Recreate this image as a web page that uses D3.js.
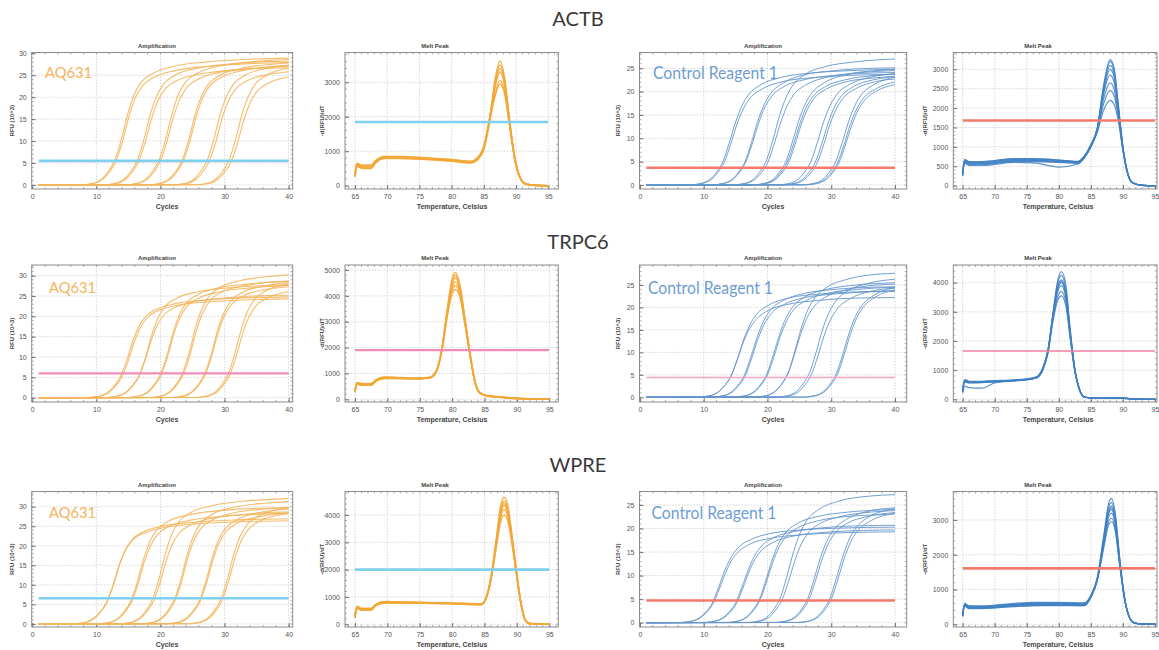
<!DOCTYPE html>
<html><head><meta charset="utf-8">
<script src="https://cdn.jsdelivr.net/npm/d3@7"></script>
<style>body{margin:0;background:#fff}svg{display:block}</style>
</head><body><svg id="chart" width="1159" height="650"></svg>
<script>
// ---------------- DATA ----------------
const genes = ["ACTB", "TRPC6", "WPRE"];
const reagents = ["AQ631", "Control Reagent 1"];
const ampTitle = "Amplification";
const meltTitle = "Melt Peak";
const ampXLabel = "Cycles";
const meltXLabel = "Temperature, Celsius";
const ampYLabel = "RFU (10^3)";
const meltYLabel = "-d(RFU)/dT";

const ampXTicks = [0, 10, 20, 30, 40];
const meltXTicks = [65, 70, 75, 80, 85, 90, 95];
const ampYTicksAQ = [0, 5, 10, 15, 20, 25, 30];
const ampYTicksCtrl = [0, 5, 10, 15, 20, 25];
const meltYTicksActbAQ = [0, 1000, 2000, 3000];
const meltYTicksActbCtrl = [0, 500, 1000, 1500, 2000, 2500, 3000];
const meltYTicksTrpc6AQ = [0, 1000, 2000, 3000, 4000, 5000];
const meltYTicksTrpc6Ctrl = [0, 1000, 2000, 3000, 4000];
const meltYTicksWpreAQ = [0, 1000, 2000, 3000, 4000];
const meltYTicksWpreCtrl = [0, 1000, 2000, 3000];

// thresholds
const thrActbAQAmp = 5.5, thrActbAQMelt = 1850, thrActbCtrlAmp = 3.7, thrActbCtrlMelt = 1680;
const thrTrpc6AQAmp = 6.0, thrTrpc6AQMelt = 1900, thrTrpc6CtrlAmp = 4.4, thrTrpc6CtrlMelt = 1660;
const thrWpreAQAmp = 6.6, thrWpreAQMelt = 2000, thrWpreCtrlAmp = 4.7, thrWpreCtrlMelt = 1610;

// amplification curves: [cycle, RFU x10^3]
const actbAQAmp = [
 [[1,0],[7.9,.06],[8.9,.23],[9.9,.58],[10.9,1.45],[11.9,3.19],[12.9,5.8],[13.9,10.4],[14.9,16.2],[15.9,20.6],[16.9,23.2],[18.9,25.5],[21.9,27],[26.9,28],[32.9,28.6],[40,28.9]],
 [[1,0],[8.1,.06],[9.1,.22],[10.1,.56],[11.1,1.4],[12.1,3.08],[13.1,5.6],[14.1,10.1],[15.1,15.7],[16.1,19.9],[17.1,22.4],[19.1,24.6],[22.1,26],[27.1,27],[33.1,27.6],[40,27.9]],
 [[1,0],[11.4,.06],[12.4,.23],[13.4,.57],[14.4,1.43],[15.4,3.14],[16.4,5.7],[17.4,10.3],[18.4,16],[19.4,20.2],[20.4,22.8],[22.4,25.1],[25.4,26.5],[30.4,27.5],[36.4,28.1],[40,28.2]],
 [[1,0],[11.6,.05],[12.6,.22],[13.6,.54],[14.6,1.35],[15.6,2.97],[16.6,5.4],[17.6,9.7],[18.6,15.1],[19.6,19.2],[20.6,21.6],[22.6,23.8],[25.6,25.1],[30.6,26.1],[36.6,26.6],[40,26.7]],
 [[1,0],[14.8,.06],[15.8,.23],[16.8,.58],[17.8,1.45],[18.8,3.19],[19.8,5.8],[20.8,10.4],[21.8,16.2],[22.8,20.6],[23.8,23.2],[25.8,25.5],[28.8,27],[33.8,28],[40,28.6]],
 [[1,0],[15,.06],[16,.22],[17,.55],[18,1.38],[19,3.03],[20,5.5],[21,9.9],[22,15.4],[23,19.5],[24,22],[26,24.2],[29,25.6],[34,26.5],[40,27.1]],
 [[1,0],[18.4,.06],[19.4,.23],[20.4,.57],[21.4,1.43],[22.4,3.14],[23.4,5.7],[24.4,10.3],[25.4,16],[26.4,20.2],[27.4,22.8],[29.4,25.1],[32.4,26.5],[37.4,27.5],[40,27.8]],
 [[1,0],[18.6,.06],[19.6,.22],[20.6,.56],[21.6,1.4],[22.6,3.08],[23.6,5.6],[24.6,10.1],[25.6,15.7],[26.6,19.9],[27.6,22.4],[29.6,24.6],[32.6,26],[37.6,27],[40,27.3]],
 [[1,0],[22.3,.06],[23.3,.23],[24.3,.57],[25.3,1.43],[26.3,3.14],[27.3,5.7],[28.3,10.3],[29.3,16],[30.3,20.2],[31.3,22.8],[33.3,25.1],[36.3,26.5],[40,27.2]],
 [[1,0],[22.6,.05],[23.6,.22],[24.6,.54],[25.6,1.35],[26.6,2.97],[27.6,5.4],[28.6,9.7],[29.6,15.1],[30.6,19.2],[31.6,21.6],[33.6,23.8],[36.6,25.1],[40,25.8]],
 [[1,0],[25.7,.06],[26.7,.23],[27.7,.57],[28.7,1.43],[29.7,3.14],[30.7,5.7],[31.7,10.3],[32.7,16],[33.7,20.2],[34.7,22.8],[36.7,25.1],[40,26.6]],
 [[1,0],[26,.05],[27,.21],[28,.53],[29,1.33],[30,2.92],[31,5.3],[32,9.5],[33,14.8],[34,18.8],[35,21.2],[37,23.3],[40,24.6]]
];
const actbCtrlAmp = [
 [[1,0],[8,.05],[9,.2],[10,.5],[11,1.25],[12,2.75],[13,5],[14,9],[15,13.5],[16,17],[17,19.3],[19,21.5],[22,23],[27,24],[33,24.5],[40,24.8]],
 [[1,0],[8.2,.05],[9.2,.19],[10.2,.48],[11.2,1.2],[12.2,2.64],[13.2,4.8],[14.2,8.6],[15.2,13],[16.2,16.3],[17.2,18.5],[19.2,20.6],[22.2,22.1],[27.2,23],[33.2,23.5],[40,23.7]],
 [[1,0],[11.5,.05],[12.5,.2],[13.5,.51],[14.5,1.28],[15.5,2.81],[16.5,5.1],[17.5,9.2],[18.5,13.8],[19.5,17.3],[20.5,19.6],[22.5,21.9],[25.5,23.5],[30.5,24.5],[36.5,25],[40,25.1]],
 [[1,0],[11.6,.05],[12.6,.2],[13.6,.49],[14.6,1.23],[15.6,2.7],[16.6,4.9],[17.6,8.8],[18.6,13.2],[19.6,16.7],[20.6,18.9],[22.6,21.1],[25.6,22.5],[30.6,23.5],[36.6,24],[40,24.1]],
 [[1,0],[14.9,.06],[15.9,.22],[16.9,.55],[17.9,1.38],[18.9,3.03],[19.9,5.5],[20.9,9.9],[21.9,14.9],[22.9,18.7],[23.9,21.2],[25.9,23.7],[28.9,25.3],[33.9,26.4],[40,27]],
 [[1,0],[15.1,.05],[16.1,.2],[17.1,.5],[18.1,1.25],[19.1,2.75],[20.1,5],[21.1,9],[22.1,13.5],[23.1,17],[24.1,19.3],[26.1,21.5],[29.1,23],[34.1,24],[40,24.5]],
 [[1,0],[17.9,.05],[18.9,.2],[19.9,.51],[20.9,1.28],[21.9,2.81],[22.9,5.1],[23.9,9.2],[24.9,13.8],[25.9,17.3],[26.9,19.6],[28.9,21.9],[31.9,23.5],[36.9,24.5],[40,24.7]],
 [[1,0],[18.1,.05],[19.1,.2],[20.1,.49],[21.1,1.23],[22.1,2.7],[23.1,4.9],[24.1,8.8],[25.1,13.2],[26.1,16.7],[27.1,18.9],[29.1,21.1],[32.1,22.5],[37.1,23.5],[40,23.8]],
 [[1,0],[18.3,.05],[19.3,.19],[20.3,.48],[21.3,1.2],[22.3,2.64],[23.3,4.8],[24.3,8.6],[25.3,13],[26.3,16.3],[27.3,18.5],[29.3,20.6],[32.3,22.1],[37.3,23],[40,23.3]],
 [[1,0],[21.8,.05],[22.8,.2],[23.8,.5],[24.8,1.25],[25.8,2.75],[26.8,5],[27.8,9],[28.8,13.5],[29.8,17],[30.8,19.3],[32.8,21.5],[35.8,23],[40,23.8]],
 [[1,0],[22.5,.05],[23.5,.2],[24.5,.49],[25.5,1.23],[26.5,2.7],[27.5,4.9],[28.5,8.8],[29.5,13.2],[30.5,16.7],[31.5,18.9],[33.5,21.1],[36.5,22.5],[40,23.2]],
 [[1,0],[22.8,.05],[23.8,.19],[24.8,.48],[25.8,1.2],[26.8,2.64],[27.8,4.8],[28.8,8.6],[29.8,13],[30.8,16.3],[31.8,18.5],[33.8,20.6],[36.8,22.1],[40,22.7]],
 [[1,0],[25.7,.05],[26.7,.2],[27.7,.5],[28.7,1.25],[29.7,2.75],[30.7,5],[31.7,9],[32.7,13.5],[33.7,17],[34.7,19.3],[36.7,21.5],[40,23.1]],
 [[1,0],[26,.05],[27,.19],[28,.48],[29,1.2],[30,2.64],[31,4.8],[32,8.6],[33,13],[34,16.3],[35,18.5],[37,20.6],[40,22.1]],
 [[1,0],[26.2,.05],[27.2,.19],[28.2,.47],[29.2,1.18],[30.2,2.59],[31.2,4.7],[32.2,8.5],[33.2,12.7],[34.2,16],[35.2,18.1],[37.2,20.2],[40,21.5]]
];
const trpc6AQAmp = [
 [[1,0],[8.7,.05],[9.7,.2],[10.7,.5],[11.7,1.25],[12.7,2.75],[13.7,5],[14.7,9],[15.7,14],[16.7,17.75],[17.7,20],[19.7,22],[22.7,23.25],[27.7,24.1],[33.7,24.6],[40,24.8]],
 [[1,0],[8.9,.05],[9.9,.2],[10.9,.49],[11.9,1.23],[12.9,2.7],[13.9,4.9],[14.9,8.8],[15.9,13.7],[16.9,17.4],[17.9,19.6],[19.9,21.6],[22.9,22.8],[27.9,23.6],[33.9,24.1],[40,24.3]],
 [[1,0],[11.7,.06],[12.7,.22],[13.7,.56],[14.7,1.4],[15.7,3.08],[16.7,5.6],[17.7,10.1],[18.7,15.7],[19.7,19.9],[20.7,22.4],[22.7,24.6],[25.7,26],[30.7,27],[36.7,27.6],[40,27.7]],
 [[1,0],[11.6,.05],[12.6,.2],[13.6,.51],[14.6,1.28],[15.6,2.8],[16.6,5.1],[17.6,9.2],[18.6,14.3],[19.6,18.1],[20.6,20.4],[22.6,22.4],[25.6,23.7],[30.6,24.6],[36.6,25.1],[40,25.2]],
 [[1,0],[15,.06],[16,.23],[17,.58],[18,1.45],[19,3.19],[20,5.8],[21,10.4],[22,16.2],[23,20.6],[24,23.2],[26,25.5],[29,27],[34,28],[40,28.6]],
 [[1,0],[15.1,.06],[16.1,.22],[17.1,.56],[18.1,1.4],[19.1,3.08],[20.1,5.6],[21.1,10.1],[22.1,15.7],[23.1,19.9],[24.1,22.4],[26.1,24.6],[29.1,26],[34.1,27],[40,27.6]],
 [[1,0],[18.5,.06],[19.5,.25],[20.5,.62],[21.5,1.55],[22.5,3.41],[23.5,6.2],[24.5,11.2],[25.5,17.4],[26.5,22],[27.5,24.8],[29.5,27.3],[32.5,28.8],[37.5,29.9],[40,30.2]],
 [[1,0],[18.6,.06],[19.6,.24],[20.6,.59],[21.6,1.48],[22.6,3.25],[23.6,5.9],[24.6,10.6],[25.6,16.5],[26.6,20.9],[27.6,23.6],[29.6,26],[32.6,27.4],[37.6,28.5],[40,28.7]],
 [[1,0],[21.9,.06],[22.9,.24],[23.9,.59],[24.9,1.48],[25.9,3.25],[26.9,5.9],[27.9,10.6],[28.9,16.5],[29.9,20.9],[30.9,23.6],[32.9,26],[35.9,27.4],[40,28.3]],
 [[1,0],[22,.06],[23,.23],[24,.57],[25,1.43],[26,3.14],[27,5.7],[28,10.3],[29,16],[30,20.2],[31,22.8],[33,25.1],[36,26.5],[40,27.3]],
 [[1,0],[25.6,.06],[26.6,.24],[27.6,.6],[28.6,1.5],[29.6,3.3],[30.6,6],[31.6,10.8],[32.6,16.8],[33.6,21.3],[34.6,24],[36.6,26.4],[40,28]],
 [[1,0],[25.8,.06],[26.8,.22],[27.8,.56],[28.8,1.4],[29.8,3.08],[30.8,5.6],[31.8,10.1],[32.8,15.7],[33.8,19.9],[34.8,22.4],[36.8,24.6],[40,26.1]]
];
const trpc6CtrlAmp = [
 [[1,0],[9.2,.05],[10.2,.18],[11.2,.45],[12.2,1.13],[13.2,2.48],[14.2,4.5],[15.2,8.1],[16.2,12.2],[17.2,15.3],[18.2,17.3],[20.2,19.4],[23.2,20.7],[28.2,21.6],[34.2,22.1],[40,22.2]],
 [[1,0],[9.3,.05],[10.3,.19],[11.3,.48],[12.3,1.2],[13.3,2.64],[14.3,4.8],[15.3,8.6],[16.3,13],[17.3,16.3],[18.3,18.5],[20.3,20.6],[23.3,22.1],[28.3,23],[34.3,23.5],[40,23.7]],
 [[1,0],[11.4,.05],[12.4,.2],[13.4,.5],[14.4,1.25],[15.4,2.75],[16.4,5],[17.4,9],[18.4,13.5],[19.4,17],[20.4,19.3],[22.4,21.5],[25.4,23],[30.4,24],[36.4,24.5],[40,24.6]],
 [[1,0],[11.5,.05],[12.5,.19],[13.5,.48],[14.5,1.2],[15.5,2.64],[16.5,4.8],[17.5,8.6],[18.5,13],[19.5,16.3],[20.5,18.5],[22.5,20.6],[25.5,22.1],[30.5,23],[36.5,23.5],[40,23.6]],
 [[1,0],[14.9,.05],[15.9,.21],[16.9,.52],[17.9,1.3],[18.9,2.86],[19.9,5.2],[20.9,9.4],[21.9,14],[22.9,17.7],[23.9,20],[25.9,22.4],[28.9,23.9],[33.9,25],[40,25.5]],
 [[1,0],[15,.05],[16,.2],[17,.5],[18,1.25],[19,2.75],[20,5],[21,9],[22,13.5],[23,17],[24,19.3],[26,21.5],[29,23],[34,24],[40,24.5]],
 [[1,0],[18.3,.06],[19.3,.23],[20.3,.57],[21.3,1.43],[22.3,3.14],[23.3,5.7],[24.3,10.3],[25.3,15.4],[26.3,19.4],[27.3,21.9],[29.3,24.5],[32.3,26.2],[37.3,27.4],[40,27.6]],
 [[1,0],[18.2,.05],[19.2,.21],[20.2,.52],[21.2,1.3],[22.2,2.86],[23.2,5.2],[24.2,9.4],[25.2,14],[26.2,17.7],[27.2,20],[29.2,22.4],[32.2,23.9],[37.2,25],[40,25.2]],
 [[1,0],[21.6,.06],[22.6,.22],[23.6,.55],[24.6,1.38],[25.6,3.03],[26.6,5.5],[27.6,9.9],[28.6,14.9],[29.6,18.7],[30.6,21.2],[32.6,23.7],[35.6,25.3],[40,26.3]],
 [[1,0],[21.9,.05],[22.9,.2],[23.9,.51],[24.9,1.28],[25.9,2.81],[26.9,5.1],[27.9,9.2],[28.9,13.8],[29.9,17.3],[30.9,19.6],[32.9,21.9],[35.9,23.5],[40,24.3]],
 [[1,0],[25.8,.05],[26.8,.21],[27.8,.53],[28.8,1.33],[29.8,2.92],[30.8,5.3],[31.8,9.5],[32.8,14.3],[33.8,18],[34.8,20.4],[36.8,22.8],[40,24.4]],
 [[1,0],[26,.05],[27,.21],[28,.52],[29,1.3],[30,2.86],[31,5.2],[32,9.4],[33,14],[34,17.7],[35,20],[37,22.4],[40,23.9]]
];
const wpreAQAmp = [
 [[1,0],[6.5,.05],[7.5,.21],[8.5,.53],[9.5,1.33],[10.5,2.92],[11.5,5.3],[12.5,9.5],[13.5,14.8],[14.5,18.8],[15.5,21.2],[17.5,23.3],[20.5,24.6],[25.5,25.6],[31.5,26.1],[40,26.4]],
 [[1,0],[6.6,.05],[7.6,.22],[8.6,.54],[9.6,1.35],[10.6,2.97],[11.6,5.4],[12.6,9.7],[13.6,15.1],[14.6,19.2],[15.6,21.6],[17.6,23.8],[20.6,25.1],[25.6,26.1],[31.6,26.6],[40,26.9]],
 [[1,0],[10.4,.06],[11.4,.24],[12.4,.6],[13.4,1.5],[14.4,3.3],[15.4,6],[16.4,10.8],[17.4,16.8],[18.4,21.3],[19.4,24],[21.4,26.4],[24.4,27.9],[29.4,29],[35.4,29.6],[40,29.7]],
 [[1,0],[10.5,.06],[11.5,.23],[12.5,.57],[13.5,1.43],[14.5,3.14],[15.5,5.7],[16.5,10.3],[17.5,16],[18.5,20.2],[19.5,22.8],[21.5,25.1],[24.5,26.5],[29.5,27.5],[35.5,28.1],[40,28.3]],
 [[1,0],[13.8,.07],[14.8,.26],[15.8,.65],[16.8,1.63],[17.8,3.58],[18.8,6.5],[19.8,11.7],[20.8,18.2],[21.8,23.1],[22.8,26],[24.8,28.6],[27.8,30.2],[32.8,31.4],[38.8,32],[40,32.1]],
 [[1,0],[13.9,.06],[14.9,.23],[15.9,.58],[16.9,1.45],[17.9,3.19],[18.9,5.8],[19.9,10.4],[20.9,16.2],[21.9,20.6],[22.9,23.2],[24.9,25.5],[27.9,27],[32.9,28],[38.9,28.6],[40,28.6]],
 [[1,0],[17.2,.06],[18.2,.26],[19.2,.64],[20.2,1.6],[21.2,3.52],[22.2,6.4],[23.2,11.5],[24.2,17.9],[25.2,22.7],[26.2,25.6],[28.2,28.2],[31.2,29.8],[36.2,30.9],[40,31.3]],
 [[1,0],[17.3,.06],[18.3,.24],[19.3,.61],[20.3,1.53],[21.3,3.36],[22.3,6.1],[23.3,11],[24.3,17.1],[25.3,21.7],[26.3,24.4],[28.3,26.8],[31.3,28.4],[36.3,29.4],[40,29.8]],
 [[1,0],[21.1,.06],[22.1,.24],[23.1,.61],[24.1,1.53],[25.1,3.36],[26.1,6.1],[27.1,11],[28.1,17.1],[29.1,21.7],[30.1,24.4],[32.1,26.8],[35.1,28.4],[40,29.4]],
 [[1,0],[21.2,.06],[22.2,.24],[23.2,.59],[24.2,1.48],[25.2,3.25],[26.2,5.9],[27.2,10.6],[28.2,16.5],[29.2,20.9],[30.2,23.6],[32.2,26],[35.2,27.4],[40,28.4]],
 [[1,0],[24.4,.06],[25.4,.25],[26.4,.63],[27.4,1.58],[28.4,3.47],[29.4,6.3],[30.4,11.3],[31.4,17.6],[32.4,22.4],[33.4,25.2],[35.4,27.7],[38.4,29.3],[40,29.6]],
 [[1,0],[24.6,.06],[25.6,.24],[26.6,.6],[27.6,1.5],[28.6,3.3],[29.6,6],[30.6,10.8],[31.6,16.8],[32.6,21.3],[33.6,24],[35.6,26.4],[38.6,27.9],[40,28.2]]
];
const wpreCtrlAmp = [
 [[1,0],[6.3,.04],[7.3,.16],[8.3,.41],[9.3,1.03],[10.3,2.26],[11.3,4.1],[12.3,7.4],[13.3,11.1],[14.3,13.9],[15.3,15.8],[17.3,17.6],[20.3,18.9],[25.3,19.7],[31.3,20.1],[40,20.3]],
 [[1,0],[6.4,.04],[7.4,.16],[8.4,.39],[9.4,.98],[10.4,2.15],[11.4,3.9],[12.4,7],[13.4,10.5],[14.4,13.3],[15.4,15],[17.4,16.8],[20.4,17.9],[25.4,18.7],[31.4,19.1],[40,19.3]],
 [[1,0],[10,.04],[11,.17],[12,.42],[13,1.05],[14,2.31],[15,4.2],[16,7.6],[17,11.3],[18,14.3],[19,16.2],[21,18.1],[24,19.3],[29,20.2],[35,20.6],[40,20.7]],
 [[1,0],[10.1,.04],[11.1,.16],[12.1,.4],[13.1,1],[14.1,2.2],[15.1,4],[16.1,7.2],[17.1,10.8],[18.1,13.6],[19.1,15.4],[21.1,17.2],[24.1,18.4],[29.1,19.2],[35.1,19.6],[40,19.7]],
 [[1,0],[13.7,.05],[14.7,.2],[15.7,.49],[16.7,1.23],[17.7,2.7],[18.7,4.9],[19.7,8.8],[20.7,13.2],[21.7,16.7],[22.7,18.9],[24.7,21.1],[27.7,22.5],[32.7,23.5],[38.7,24],[40,24.1]],
 [[1,0],[13.8,.05],[14.8,.19],[15.8,.47],[16.8,1.18],[17.8,2.59],[18.8,4.7],[19.8,8.5],[20.8,12.7],[21.8,16],[22.8,18.1],[24.8,20.2],[27.8,21.6],[32.8,22.6],[38.8,23],[40,23.1]],
 [[1,0],[17.1,.06],[18.1,.22],[19.1,.56],[20.1,1.4],[21.1,3.08],[22.1,5.6],[23.1,10.1],[24.1,15.1],[25.1,19],[26.1,21.6],[28.1,24.1],[31.1,25.8],[36.1,26.9],[40,27.2]],
 [[1,0],[17.3,.05],[18.3,.2],[19.3,.49],[20.3,1.23],[21.3,2.7],[22.3,4.9],[23.3,8.8],[24.3,13.2],[25.3,16.7],[26.3,18.9],[28.3,21.1],[31.3,22.5],[36.3,23.5],[40,23.8]],
 [[1,0],[21.3,.05],[22.3,.2],[23.3,.51],[24.3,1.28],[25.3,2.81],[26.3,5.1],[27.3,9.2],[28.3,13.8],[29.3,17.3],[30.3,19.6],[32.3,21.9],[35.3,23.5],[40,24.4]],
 [[1,0],[21.5,.05],[22.5,.2],[23.5,.49],[24.5,1.23],[25.5,2.7],[26.5,4.9],[27.5,8.8],[28.5,13.2],[29.5,16.7],[30.5,18.9],[32.5,21.1],[35.5,22.5],[40,23.4]],
 [[1,0],[24.8,.05],[25.8,.21],[26.8,.52],[27.8,1.3],[28.8,2.86],[29.8,5.2],[30.8,9.4],[31.8,14],[32.8,17.7],[33.8,20],[35.8,22.4],[38.8,23.9],[40,24.2]],
 [[1,0],[25,.05],[26,.2],[27,.5],[28,1.25],[29,2.75],[30,5],[31,9],[32,13.5],[33,17],[34,19.3],[36,21.5],[39,23],[40,23.2]]
];

// melt peak curves: temperatures + -d(RFU)/dT values
const actbAQMeltTemps = [65,65.3,66,67.5,68.2,69.5,72,76,80,83,84,85,86,86.8,87.5,88.2,89,89.8,90.6,91.5,93,95];
const actbAQMelt = [
 [300,640,580,580,720,840,840,800,750,700,800,1150,2100,3150,3620,3150,1900,820,260,60,10,0],
 [380,600,540,540,690,810,820,790,740,690,780,1100,2050,3050,3500,3080,1860,800,250,50,10,0],
 [250,580,520,510,670,800,800,770,720,670,760,1080,2000,2980,3400,3000,1820,790,240,50,10,0],
 [330,650,600,600,730,850,850,810,760,710,810,1130,2050,2900,3300,2920,1800,780,240,50,10,0],
 [280,560,500,500,660,790,790,760,710,660,750,1050,1950,2700,3050,2750,1750,760,230,40,5,0],
 [350,620,570,570,710,830,830,790,740,690,790,1120,2020,2640,2950,2680,1720,750,230,40,5,0]
];
const actbCtrlMeltTemps = [65,65.3,66,68,70,73,76,80,83,84,85,86,87,88,88.6,89.3,90,90.7,91.5,93,95];
const actbCtrlMelt = [
 [300,650,590,590,610,660,660,630,600,760,1050,1500,2600,3250,3050,2050,1000,360,80,10,0],
 [250,620,560,560,590,640,650,620,590,740,1030,1480,2560,3200,3000,2020,990,350,80,10,0],
 [380,680,620,610,630,680,680,650,620,770,1060,1470,2500,3100,2900,1980,980,350,70,10,0],
 [280,600,540,540,570,620,620,600,580,730,1020,1450,2450,3000,2820,1940,970,340,70,10,0],
 [330,640,600,600,640,700,700,660,630,770,1040,1440,2380,2850,2680,1880,950,340,70,10,0],
 [260,580,520,520,550,600,590,480,560,720,1000,1420,2250,2650,2500,1800,930,330,70,10,0],
 [350,660,610,620,650,690,690,660,620,760,1030,1400,2120,2450,2330,1730,910,330,70,10,0],
 [300,610,560,570,600,640,640,610,590,740,1000,1380,1950,2200,2100,1650,900,320,70,10,0]
];
const trpc6AQMeltTemps = [65,65.3,66,67.5,68.2,69.5,72,75,76.5,77.5,78.4,79.2,80,80.5,81.2,82,82.7,83.5,84.3,85.5,87,90,95];
const trpc6AQMelt = [
 [320,640,600,600,740,850,830,810,840,1080,1950,3400,4650,4900,4420,3080,1880,720,260,130,90,30,0],
 [280,600,560,560,710,820,810,800,830,1050,1920,3350,4550,4800,4350,3040,1860,710,250,120,90,30,0],
 [350,650,610,610,750,860,840,820,850,1070,1900,3300,4450,4700,4280,3000,1840,700,250,130,100,40,0],
 [260,580,540,540,690,800,800,790,820,1040,1880,3250,4330,4550,4150,2950,1820,690,240,120,90,30,0],
 [330,620,580,580,720,830,820,800,830,1060,1870,3200,4200,4400,4050,2900,1800,690,240,150,110,40,0],
 [300,600,560,560,700,810,800,790,820,1030,1850,3150,4080,4250,3950,2850,1780,680,230,140,100,30,0]
];
const trpc6CtrlMeltTemps = [65,65.3,66,68,70,73,75,76.5,77.5,78.3,79.1,79.8,80.4,81.1,81.8,82.5,83.2,84,86,89,92,95];
const trpc6CtrlMelt = [
 [300,650,600,600,620,650,690,760,1080,1700,3000,4050,4380,3900,2350,1050,360,80,30,50,10,0],
 [250,620,580,580,600,640,670,740,1060,1680,2950,3950,4250,3780,2280,1020,350,80,30,50,10,0],
 [350,680,620,620,640,670,700,770,1070,1670,2920,3850,4100,3650,2230,1010,350,80,30,50,10,0],
 [280,600,560,570,600,640,670,740,1050,1660,2900,3800,4050,3600,2200,1000,350,80,30,50,10,0],
 [320,640,610,610,630,660,690,750,1040,1640,2880,3760,4000,3560,2180,990,340,70,30,40,10,0],
 [200,450,400,380,560,630,670,740,1030,1620,2840,3680,3900,3480,2150,980,340,70,30,40,10,0],
 [330,660,600,600,620,650,680,740,1020,1600,2780,3500,3700,3320,2080,960,330,70,30,40,10,0],
 [270,610,570,580,610,640,670,730,1000,1580,2700,3380,3550,3200,2030,950,330,70,30,40,10,0]
];
const wpreAQMeltTemps = [65,65.3,66,67.5,68.2,69.5,72,76,80,84.5,85.3,86,86.8,87.5,88,88.5,89.2,89.9,90.6,91.3,92,95];
const wpreAQMelt = [
 [280,640,570,570,720,820,820,790,770,740,1020,1750,3100,4350,4650,4450,3350,2000,820,160,30,0],
 [230,600,530,530,690,790,790,770,750,720,990,1700,3020,4200,4500,4300,3250,1960,800,150,30,0],
 [320,660,590,590,730,830,820,800,780,750,1010,1720,3000,4130,4420,4220,3200,1950,800,150,30,0],
 [260,580,510,510,680,780,780,770,750,720,980,1680,2950,4060,4350,4150,3150,1930,790,150,30,0],
 [300,620,560,560,710,810,800,790,770,740,1000,1660,2880,3930,4200,4020,3080,1900,780,140,20,0],
 [240,590,540,540,690,790,790,780,760,730,990,1640,2800,3750,4000,3850,3000,1880,770,140,20,0]
];
const wpreCtrlMeltTemps = [65,65.3,66,68,70,73,76,80,84,85,86,87,87.8,88.2,88.8,89.5,90.2,90.9,91.7,93,95];
const wpreCtrlMelt = [
 [280,580,510,510,530,570,600,600,590,830,1350,2550,3500,3620,3200,1900,830,260,50,10,0],
 [230,540,470,470,490,530,560,560,550,800,1320,2480,3400,3500,3100,1860,820,250,50,10,0],
 [300,600,530,520,540,580,610,610,600,820,1300,2420,3300,3400,3020,1820,810,250,50,10,0],
 [220,520,450,450,470,510,540,540,540,780,1290,2400,3250,3350,2980,1800,800,250,50,10,0],
 [260,560,490,490,520,560,590,590,580,810,1300,2380,3210,3300,2940,1780,800,250,50,10,0],
 [240,530,460,460,480,520,540,550,540,780,1280,2320,3110,3200,2870,1750,790,250,50,10,0],
 [290,580,520,520,550,600,630,630,620,830,1290,2250,2970,3050,2750,1700,780,240,40,10,0],
 [250,540,480,480,500,540,570,570,560,790,1250,2200,2880,2950,2680,1680,770,240,40,10,0]
];

// ---------------- STYLE / LAYOUT ----------------
const C = {
  orangeAmp: "#f4b55c", orangeMelt: "#f2a735",
  blueAmp: "#6596cc", blueMelt: "#3f80c3",
  thrBlue: "#7fd0ee", thrRed: "#f27a6b", thrPink: "#f08db6", thrPinkLight: "#f4a4be",
  aqText: "#f5b35c", ctrlText: "#6e9dd2", axisText: "#555", frame: "#8c8c8c", grid: "#cdcdcd"
};
const COLS = [
  { l: 31.7, r: 292.7, titleX: 157, xLabX: 167, yLabX: 12 },
  { l: 345, r: 558.3, titleX: 435, xLabX: 452, yLabX: 322 },
  { l: 639.5, r: 906.7, titleX: 763, xLabX: 773, yLabX: 618 },
  { l: 953.3, r: 1157, titleX: 1038, xLabX: 1058, yLabX: 925 }
];
const ROWS = [
  { t: 52.5, b: 189, titleY: 47.5, geneY: 25.5, labelY: 77.5 },
  { t: 265, b: 402, titleY: 260, geneY: 249, labelY: 292.5 },
  { t: 491.5, b: 627, titleY: 486.5, geneY: 472, labelY: 517.5 }
];

const panels = [
  // row 0 ACTB
  { row: 0, col: 0, kind: "amp", series: actbAQAmp, color: C.orangeAmp, width: 1.1,
    xA: [0, 40, 32.3, 288.7], yA: [0, 30, 185, 53.3], yTicks: ampYTicksAQ, yMinor: 1,
    thr: thrActbAQAmp, thrColor: C.thrBlue, thrW: 2.6, label: reagents[0] },
  { row: 0, col: 1, kind: "melt", temps: actbAQMeltTemps, vals: actbAQMelt, color: C.orangeMelt, width: 1.5,
    xA: [65, 95, 355, 548.3], yA: [0, 3000, 185.7, 82.3], yTicks: meltYTicksActbAQ, yMinor: 200,
    thr: thrActbAQMelt, thrColor: C.thrBlue, thrW: 2.6 },
  { row: 0, col: 2, kind: "amp", series: actbCtrlAmp, color: C.blueAmp, width: 1,
    xA: [0, 40, 640, 895], yA: [0, 25, 185, 68.3], yTicks: ampYTicksCtrl, yMinor: 1,
    thr: thrActbCtrlAmp, thrColor: C.thrRed, thrW: 2.4, label: reagents[1] },
  { row: 0, col: 3, kind: "melt", temps: actbCtrlMeltTemps, vals: actbCtrlMelt, color: C.blueMelt, width: 1.2,
    xA: [65, 95, 962.7, 1155], yA: [0, 3000, 185.7, 69.3], yTicks: meltYTicksActbCtrl, yMinor: 100,
    thr: thrActbCtrlMelt, thrColor: C.thrRed, thrW: 2.6 },
  // row 1 TRPC6
  { row: 1, col: 0, kind: "amp", series: trpc6AQAmp, color: C.orangeAmp, width: 1.1,
    xA: [0, 40, 32.3, 288.7], yA: [0, 30, 397.7, 275.7], yTicks: ampYTicksAQ, yMinor: 1,
    thr: thrTrpc6AQAmp, thrColor: C.thrPink, thrW: 2.2, label: reagents[0] },
  { row: 1, col: 1, kind: "melt", temps: trpc6AQMeltTemps, vals: trpc6AQMelt, color: C.orangeMelt, width: 1.5,
    xA: [65, 95, 355, 549.3], yA: [0, 5000, 399.3, 270], yTicks: meltYTicksTrpc6AQ, yMinor: 200,
    thr: thrTrpc6AQMelt, thrColor: C.thrPink, thrW: 2.2 },
  { row: 1, col: 2, kind: "amp", series: trpc6CtrlAmp, color: C.blueAmp, width: 1,
    xA: [0, 40, 640, 895], yA: [0, 25, 397.3, 285], yTicks: ampYTicksCtrl, yMinor: 1,
    thr: thrTrpc6CtrlAmp, thrColor: C.thrPinkLight, thrW: 1.6, label: reagents[1] },
  { row: 1, col: 3, kind: "melt", temps: trpc6CtrlMeltTemps, vals: trpc6CtrlMelt, color: C.blueMelt, width: 1.2,
    xA: [65, 95, 962.7, 1155], yA: [0, 4000, 399.3, 282.7], yTicks: meltYTicksTrpc6Ctrl, yMinor: 200,
    thr: thrTrpc6CtrlMelt, thrColor: "#ee7f9f", thrW: 1.5 },
  // row 2 WPRE
  { row: 2, col: 0, kind: "amp", series: wpreAQAmp, color: C.orangeAmp, width: 1.1,
    xA: [0, 40, 32.3, 288.7], yA: [0, 30, 624, 506.7], yTicks: ampYTicksAQ, yMinor: 1,
    thr: thrWpreAQAmp, thrColor: C.thrBlue, thrW: 2.6, label: reagents[0] },
  { row: 2, col: 1, kind: "melt", temps: wpreAQMeltTemps, vals: wpreAQMelt, color: C.orangeMelt, width: 1.5,
    xA: [65, 95, 355, 549.3], yA: [0, 4000, 624.3, 515], yTicks: meltYTicksWpreAQ, yMinor: 200,
    thr: thrWpreAQMelt, thrColor: C.thrBlue, thrW: 2.6 },
  { row: 2, col: 2, kind: "amp", series: wpreCtrlAmp, color: C.blueAmp, width: 1,
    xA: [0, 40, 640, 895], yA: [0, 25, 622.7, 505], yTicks: ampYTicksCtrl, yMinor: 1,
    thr: thrWpreCtrlAmp, thrColor: C.thrRed, thrW: 2.6, label: reagents[1] },
  { row: 2, col: 3, kind: "melt", temps: wpreCtrlMeltTemps, vals: wpreCtrlMelt, color: C.blueMelt, width: 1.2,
    xA: [65, 95, 962.7, 1155], yA: [0, 3000, 624.3, 520], yTicks: meltYTicksWpreCtrl, yMinor: 200,
    thr: thrWpreCtrlMelt, thrColor: C.thrRed, thrW: 2.6 }
];

// ---------------- DRAW ----------------
const svg = d3.select("#chart");
svg.append("rect").attr("width", 1159).attr("height", 650).attr("fill", "#fff");
const defs = svg.append("defs");
const SANS = "'Liberation Sans', Arial, sans-serif";
const BIG = "Lato, 'Open Sans', sans-serif";

// gene row titles
genes.forEach((gname, i) => {
  svg.append("text").attr("x", 578).attr("y", ROWS[i].geneY)
    .attr("text-anchor", "middle").attr("font-family", BIG).attr("font-size", 20)
    .attr("fill", "#383838").text(gname);
});

panels.forEach((p, idx) => {
  const col = COLS[p.col], row = ROWS[p.row];
  const f = { l: col.l, r: col.r, t: row.t, b: row.b };
  const x = d3.scaleLinear().domain([p.xA[0], p.xA[1]]).range([p.xA[2], p.xA[3]]);
  const y = d3.scaleLinear().domain([p.yA[0], p.yA[1]]).range([p.yA[2], p.yA[3]]);
  const isAmp = p.kind === "amp";
  const xTicks = isAmp ? ampXTicks : meltXTicks;
  const g = svg.append("g");
  const clipId = "clip" + idx;
  defs.append("clipPath").attr("id", clipId).append("rect")
    .attr("x", f.l).attr("y", f.t).attr("width", f.r - f.l).attr("height", f.b - f.t);

  // grid
  g.selectAll(".vg").data(xTicks.filter(v => x(v) > f.l + 2 && x(v) < f.r - 2)).join("line")
    .attr("x1", d => x(d)).attr("x2", d => x(d)).attr("y1", f.t).attr("y2", f.b)
    .attr("stroke", C.grid).attr("stroke-width", 0.8).attr("stroke-dasharray", "1.5,1.5");
  g.selectAll(".hg").data(p.yTicks.filter(v => y(v) > f.t + 2 && y(v) < f.b - 2)).join("line")
    .attr("x1", f.l).attr("x2", f.r).attr("y1", d => y(d)).attr("y2", d => y(d))
    .attr("stroke", C.grid).attr("stroke-width", 0.8).attr("stroke-dasharray", "1.5,1.5");

  // minor ticks on frame
  const xMinor = isAmp ? 2 : 1;
  const xm = d3.range(Math.ceil(x.invert(f.l) / xMinor) * xMinor, x.invert(f.r), xMinor);
  const ym = d3.range(Math.ceil(y.invert(f.b) / p.yMinor) * p.yMinor, y.invert(f.t), p.yMinor);
  const mt = g.append("g").attr("stroke", "#8a8a8a").attr("stroke-width", 0.7);
  xm.forEach(v => {
    mt.append("line").attr("x1", x(v)).attr("x2", x(v)).attr("y1", f.b).attr("y2", f.b - 2);
    mt.append("line").attr("x1", x(v)).attr("x2", x(v)).attr("y1", f.t).attr("y2", f.t + 2);
  });
  ym.forEach(v => {
    mt.append("line").attr("x1", f.l).attr("x2", f.l + 2).attr("y1", y(v)).attr("y2", y(v));
    mt.append("line").attr("x1", f.r).attr("x2", f.r - 2).attr("y1", y(v)).attr("y2", y(v));
  });

  // frame
  g.append("rect").attr("x", f.l).attr("y", f.t).attr("width", f.r - f.l).attr("height", f.b - f.t)
    .attr("fill", "none").attr("stroke", C.frame).attr("stroke-width", 1);

  // axes
  const xa = g.append("g").attr("transform", `translate(0,${f.b})`)
    .call(d3.axisBottom(x).tickValues(xTicks).tickSize(-4).tickPadding(5).tickFormat(d3.format("d")));
  const ya = g.append("g").attr("transform", `translate(${f.l},0)`)
    .call(d3.axisLeft(y).tickValues(p.yTicks).tickSize(-4).tickPadding(5).tickFormat(d3.format("d")));
  [xa, ya].forEach(a => {
    a.select(".domain").remove();
    a.selectAll(".tick line").attr("stroke", "#777");
    a.selectAll("text").attr("fill", C.axisText).attr("font-size", 7).attr("font-family", SANS);
  });

  // titles
  g.append("text").attr("x", col.titleX).attr("y", row.titleY).attr("text-anchor", "middle")
    .attr("font-family", SANS).attr("font-size", 6).attr("font-weight", "bold").attr("fill", "#444")
    .text(isAmp ? ampTitle : meltTitle);
  g.append("text").attr("x", col.xLabX).attr("y", f.b + 20).attr("text-anchor", "middle")
    .attr("font-family", SANS).attr("font-size", 7).attr("font-weight", "bold").attr("fill", "#444")
    .text(isAmp ? ampXLabel : meltXLabel);
  g.append("text").attr("transform", `translate(${col.yLabX},${(f.t + f.b) / 2}) rotate(-90)`)
    .attr("text-anchor", "middle").attr("dy", "0.35em")
    .attr("font-family", SANS).attr("font-size", 6).attr("font-weight", "bold").attr("fill", "#444")
    .text(isAmp ? ampYLabel : meltYLabel);

  const plot = g.append("g").attr("clip-path", `url(#${clipId})`);

  // curves
  const series = isAmp ? p.series : p.vals.map(v => v.map((val, i) => [p.temps[i], val]));
  const line = d3.line().x(d => x(d[0])).y(d => y(d[1])).curve(d3.curveMonotoneX);
  plot.selectAll(".curve").data(series).join("path")
    .attr("d", line).attr("fill", "none").attr("stroke", p.color)
    .attr("stroke-width", p.width).attr("stroke-opacity", isAmp ? 0.9 : 0.85);

  // threshold
  const tx = isAmp ? [1, 40] : [65, 95];
  plot.append("line").attr("x1", x(tx[0])).attr("x2", x(tx[1]))
    .attr("y1", y(p.thr)).attr("y2", y(p.thr))
    .attr("stroke", p.thrColor).attr("stroke-width", p.thrW);

  // reagent label
  if (p.label) {
    const isAQ = p.label === reagents[0];
    const lx = isAQ ? (p.row === 0 ? 45 : 49) : (p.row === 1 ? 648 : (p.row === 0 ? 653 : 651.5));
    g.append("text").attr("x", lx).attr("y", row.labelY + (isAQ ? 0 : 1.5))
      .attr("font-family", BIG).attr("font-size", isAQ ? 15.5 : 16.5)
      .attr("fill", isAQ ? C.aqText : C.ctrlText)
      .attr("textLength", isAQ ? 47 : 125).attr("lengthAdjust", "spacingAndGlyphs")
      .text(p.label);
  }
});
</script></body></html>
